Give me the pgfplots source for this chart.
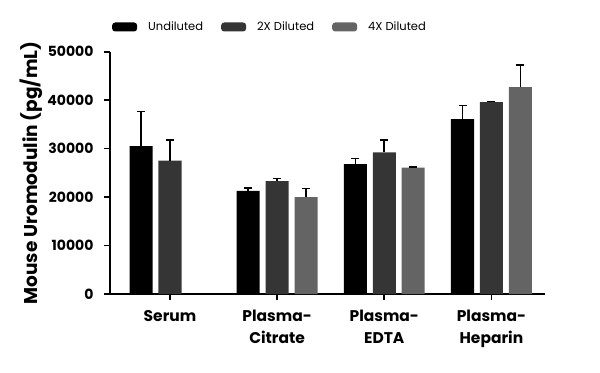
\documentclass[border=0pt]{standalone}
\usepackage{pgfplots}
\pgfplotsset{compat=1.18}
\usepackage{fontspec}
\setmainfont{Poppins}
\definecolor{cA}{HTML}{000000}
\definecolor{cB}{HTML}{353535}
\definecolor{cC}{HTML}{646464}
\begin{document}
\begin{tikzpicture}
\useasboundingbox (-110bp,-79bp) rectangle (490bp,294bp);
\begin{axis}[
  at={(0,0)}, anchor=south west,
  scale only axis,
  width=435bp, height=242.3bp,
  xmin=-0.56, xmax=3.5,
  ymin=0, ymax=50000,
  axis lines*=left,
  axis line style={line width=1.6bp, -},
  xtick={0,1,2,3},
  xticklabels={Serum,{Plasma-\\Citrate},{Plasma-\\EDTA},{Plasma-\\Heparin}},
  xticklabel style={align=center, font=\fontsize{15.5bp}{22bp}\selectfont\bfseries, yshift=-7bp},
  ytick={0,10000,20000,30000,40000,50000},
  scaled y ticks=false,
  yticklabel style={font=\fontsize{14bp}{16bp}\selectfont\bfseries, xshift=-7bp},
  /pgf/number format/assume math mode=true,
  /pgf/number format/1000 sep={},
  tick style={line width=1.6bp, black},
  major tick length=6bp,
  tick align=outside,
  ylabel={Mouse Uromodulin (pg/mL)},
  ylabel style={font=\fontsize{18.5bp}{20bp}\selectfont\bfseries, anchor=center},
  every axis y label/.append style={at={(-79bp,121bp)}},
  ybar, bar width=0.215,
  legend style={draw=none, at={(160bp,267bp)}, anchor=center,
    font=\fontsize{11.5bp}{13bp}\selectfont, legend columns=3,
    /tikz/every even column/.append style={column sep=16bp}},
  legend image code/.code={\fill[#1, rounded corners=3bp] (0bp,-4.5bp) rectangle (25bp,4.5bp); \path (34bp,0bp);},
  error bars/y dir=plus, error bars/y explicit,
  error bars/error mark options={rotate=90, mark size=4bp, line width=1.6bp},
  error bars/error bar style={line width=1.6bp, black},
  clip=false,
]
\addplot[fill=cA, draw=none, bar shift=-0.27] coordinates {
  (0,30500) +- (0,7200)
  (1,21300) +- (0,600)
  (2,26800) +- (0,1200)
  (3,36100) +- (0,2800)
};
\addlegendentry{Undiluted}
\addplot[fill=cB, draw=none, bar shift=0] coordinates {
  (0,27500) +- (0,4300)
  (1,23300) +- (0,500)
  (2,29200) +- (0,2600)
  (3,39600) +- (0,150)
};
\addlegendentry{2X Diluted}
\addplot[fill=cC, draw=none, bar shift=0.27] coordinates {
  (1,20000) +- (0,1800)
  (2,26100) +- (0,100)
  (3,42700) +- (0,4600)
};
\addlegendentry{4X Diluted}
\end{axis}
\end{tikzpicture}
\end{document}
